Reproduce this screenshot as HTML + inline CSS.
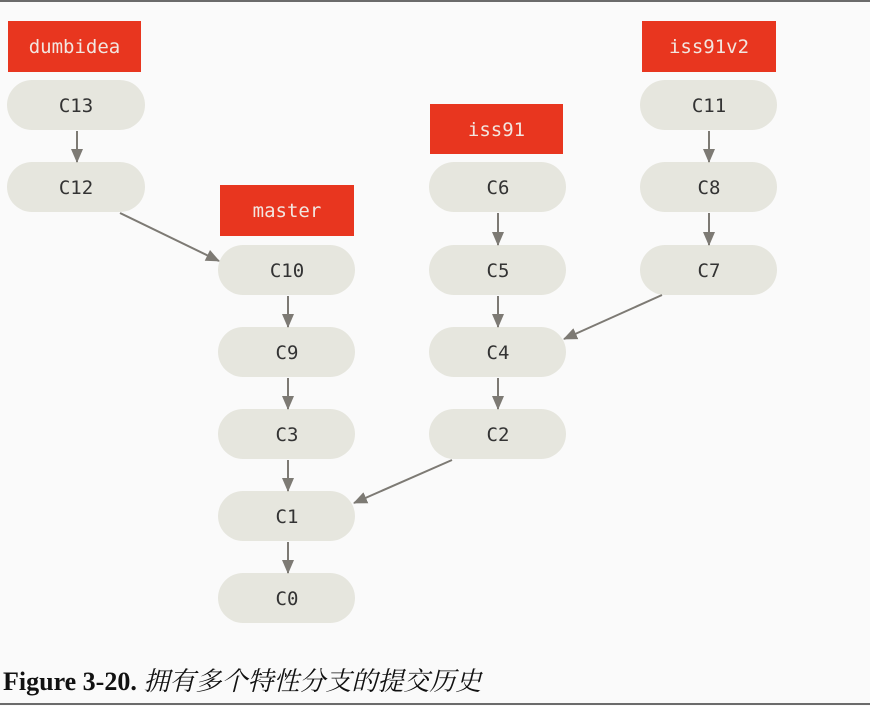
<!DOCTYPE html>
<html><head><meta charset="utf-8"><style>
html,body{margin:0;padding:0;background:#fafafa;}
svg{display:block}
</style></head><body>
<svg width="870" height="706" viewBox="0 0 870 706" xmlns="http://www.w3.org/2000/svg">
<defs>
<marker id="b" viewBox="0 0 14 16" markerWidth="14" markerHeight="16" refX="13" refY="8" orient="auto" markerUnits="userSpaceOnUse"><path d="M0,2 L14,8 L0,14 z" fill="#7d7a74"/></marker></defs>
<rect x="0" y="0" width="870" height="706" fill="#fafafa"/>
<rect x="0" y="0" width="870" height="2" fill="#6b6b6b"/>
<rect x="0" y="703" width="870" height="2" fill="#6b6b6b"/>
<g fill="#e6e6de">
<rect x="7" y="80" width="138" height="50" rx="25"/>
<rect x="7" y="162" width="138" height="50" rx="25"/>
<rect x="218" y="245" width="137" height="50" rx="25"/>
<rect x="218" y="327" width="137" height="50" rx="25"/>
<rect x="218" y="409" width="137" height="50" rx="25"/>
<rect x="218" y="491" width="137" height="50" rx="25"/>
<rect x="218" y="573" width="137" height="50" rx="25"/>
<rect x="429" y="162" width="137" height="50" rx="25"/>
<rect x="429" y="245" width="137" height="50" rx="25"/>
<rect x="429" y="327" width="137" height="50" rx="25"/>
<rect x="429" y="409" width="137" height="50" rx="25"/>
<rect x="640" y="80" width="137" height="50" rx="25"/>
<rect x="640" y="162" width="137" height="50" rx="25"/>
<rect x="640" y="245" width="137" height="50" rx="25"/>
</g>
<g fill="#e8361f">
<rect x="8" y="21" width="133" height="51"/>
<rect x="220" y="185" width="134" height="51"/>
<rect x="430" y="104" width="133" height="50"/>
<rect x="642" y="21" width="134" height="51"/>
</g>
<g font-family="'DejaVu Sans Mono','Liberation Mono',monospace" font-size="19" text-anchor="middle">
<g fill="#f2e6e0">
<text x="74.5" y="53">dumbidea</text>
<text x="287" y="217">master</text>
<text x="496.5" y="136">iss91</text>
<text x="709" y="53">iss91v2</text>
</g>
<g fill="#333">
<text x="76" y="112">C13</text>
<text x="76" y="194">C12</text>
<text x="287" y="277">C10</text>
<text x="287" y="359">C9</text>
<text x="287" y="441">C3</text>
<text x="287" y="523">C1</text>
<text x="287" y="605">C0</text>
<text x="498" y="194">C6</text>
<text x="498" y="277">C5</text>
<text x="498" y="359">C4</text>
<text x="498" y="441">C2</text>
<text x="709" y="112">C11</text>
<text x="709" y="194">C8</text>
<text x="709" y="277">C7</text>
</g></g>
<g stroke="#7d7a74" stroke-width="2" fill="none" marker-end="url(#b)">
<line x1="77" y1="131" x2="77" y2="162"/>
<line x1="288" y1="296" x2="288" y2="327"/>
<line x1="288" y1="378" x2="288" y2="409"/>
<line x1="288" y1="460" x2="288" y2="491"/>
<line x1="288" y1="542" x2="288" y2="573"/>
<line x1="498" y1="213" x2="498" y2="245"/>
<line x1="498" y1="296" x2="498" y2="327"/>
<line x1="498" y1="378" x2="498" y2="409"/>
<line x1="709" y1="131" x2="709" y2="162"/>
<line x1="709" y1="213" x2="709" y2="245"/>
<line x1="120" y1="213" x2="219" y2="261"/>
<line x1="662" y1="295" x2="564" y2="339"/>
<line x1="452" y1="460" x2="354" y2="503"/>
</g>
<text x="3" y="690" font-family="'Liberation Serif','Noto Serif CJK SC',serif" font-size="26" fill="#111"><tspan font-weight="bold">Figure 3-20.</tspan> <tspan font-style="italic">拥有多个特性分支的提交历史</tspan></text>
</svg>
</body></html>
